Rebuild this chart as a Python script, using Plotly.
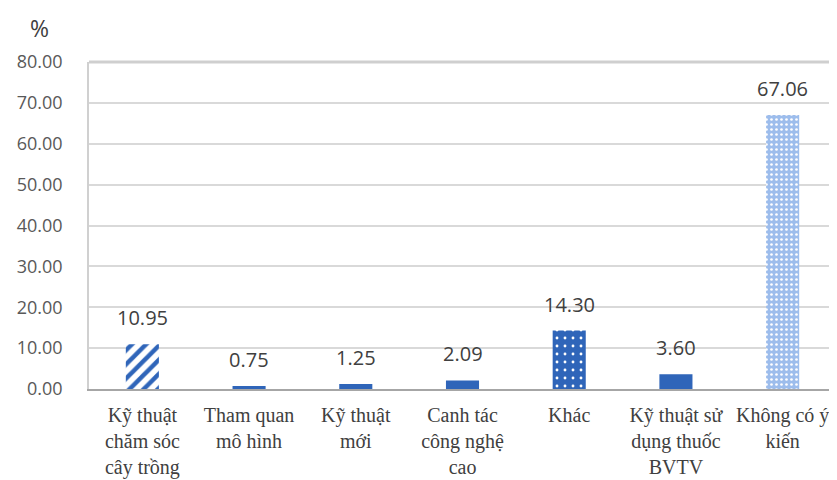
import plotly.graph_objects as go

categories = [
    "Kỹ thuật<br>chăm sóc<br>cây trồng",
    "Tham quan<br>mô hình",
    "Kỹ thuật<br>mới",
    "Canh tác<br>công nghệ<br>cao",
    "Khác",
    "Kỹ thuật sử<br>dụng thuốc<br>BVTV",
    "Không có ý<br>kiến",
]
values = [10.95, 0.75, 1.25, 2.09, 14.30, 3.60, 67.06]
tick_vals = [0, 10, 20, 30, 40, 50, 60, 70, 80]

BLUE = "#2f65b9"
LIGHT = "#9dbdec"

pattern_shapes = ["/", "", "", "", ".", "", "."]
pattern_fg = [BLUE, BLUE, BLUE, BLUE, "#ffffff", BLUE, "#ffffff"]
bar_colors = ["#ffffff", BLUE, BLUE, BLUE, BLUE, BLUE, LIGHT]
pattern_size = [10, 8, 8, 8, 8, 8, 5]
pattern_sol = [0.45, 0.3, 0.3, 0.3, 0.1, 0.3, 0.22]

fig = go.Figure()
for i in range(len(categories)):
    fig.add_trace(go.Bar(
        x=[categories[i]],
        y=[values[i]],
        width=0.31,
        marker=dict(
            color=bar_colors[i],
            line=dict(width=0),
            pattern=dict(
                shape=pattern_shapes[i],
                fgcolor=pattern_fg[i],
                fgopacity=1,
                size=pattern_size[i],
                solidity=pattern_sol[i],
                fillmode="overlay",
            ),
        ),
        hoverinfo="skip",
    ))

for c, v in zip(categories, values):
    fig.add_annotation(
        x=c, y=v, text=f"{v:.2f}", showarrow=False,
        yanchor="bottom", yshift=11,
        font=dict(family="Open Sans, Arial", size=20, color="#404040"),
    )

fig.add_annotation(
    xref="paper", yref="paper", x=-0.082, y=1.05,
    xanchor="left", yanchor="bottom",
    text="%", showarrow=False,
    font=dict(family="Open Sans, Arial", size=23, color="#404040"),
)

fig.update_layout(
    width=837, height=480,
    margin=dict(l=75, r=9, t=54, b=96),
    paper_bgcolor="white",
    plot_bgcolor="white",
    showlegend=False,
    barmode="overlay",
)
fig.update_xaxes(
    showgrid=False,
    showline=True, linecolor="#a6a6a6", linewidth=2,
    ticks="", ticklabelstandoff=7,
    categoryorder="array", categoryarray=categories,
    tickfont=dict(family="Liberation Serif, Times New Roman, serif", size=20, color="#404040"),
)
fig.update_yaxes(
    range=[0, 80],
    tickvals=tick_vals,
    tickformat=".2f",
    showgrid=True, gridcolor="#d9d9d9", gridwidth=1.5,
    zeroline=False,
    showline=True, linecolor="#d0d0d0", linewidth=1.5,
    ticks="", ticklabelstandoff=21,
    tickfont=dict(family="Open Sans, Arial", size=18, color="#595959"),
)
fig.add_shape(type="line", xref="paper", yref="paper", x0=0, x1=1, y0=1, y1=1,
              line=dict(color="#cfcfcf", width=3))

fig.write_html("out.html")
